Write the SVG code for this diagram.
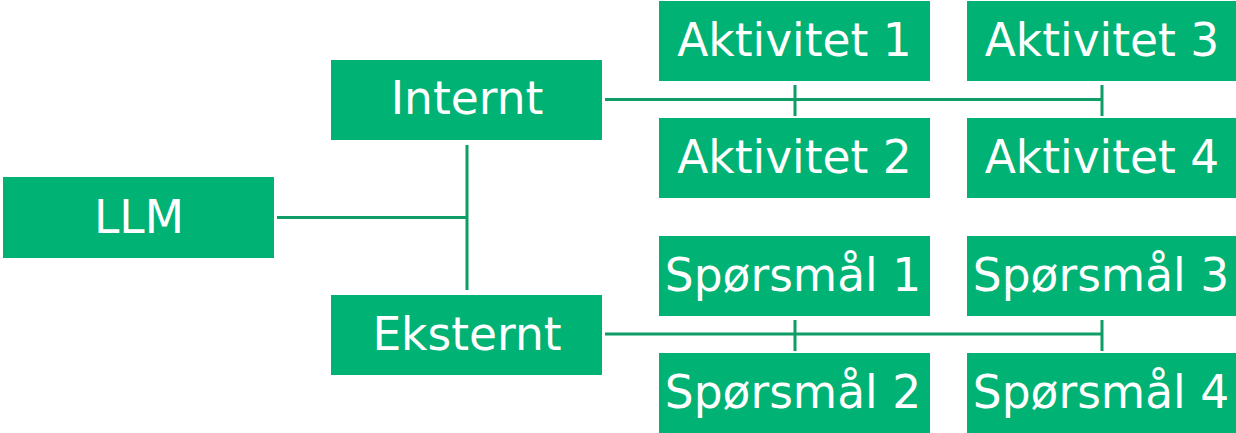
<svg xmlns="http://www.w3.org/2000/svg" width="1236" height="433" viewBox="0 0 1236 433">
<style>
.box{fill:#00B274}
.t{fill:#fff;font-family:"DejaVu Sans",Verdana,sans-serif;font-size:45.5px;text-anchor:middle}
.c{stroke:#0E9D66;stroke-width:3;fill:none}
</style>
<rect width="1236" height="433" fill="#fff"/>
<g id="connectors" class="c">
<path d="M277 217.5H467M467 145V290"/>
<path d="M605 99.5H1102M795 85V116M1102 85V116"/>
<path d="M605 334H1102M795 320V351M1102 320V351"/>
</g>
<g id="llm"><rect class="box" x="3" y="177" width="271" height="81"/><text class="t" x="139" y="233">LLM</text></g>
<g id="internt"><rect class="box" x="331" y="60" width="271" height="80"/><text class="t" x="467" y="114">Internt</text></g>
<g id="eksternt"><rect class="box" x="331" y="295" width="271" height="80"/><text class="t" x="467" y="350">Eksternt</text></g>
<g id="aktivitet1"><rect class="box" x="659" y="1" width="271" height="80"/><text class="t" x="794.5" y="56">Aktivitet 1</text></g>
<g id="aktivitet2"><rect class="box" x="659" y="118" width="271" height="80"/><text class="t" x="794.5" y="173">Aktivitet 2</text></g>
<g id="aktivitet3"><rect class="box" x="967" y="1" width="269" height="80"/><text class="t" x="1102" y="56">Aktivitet 3</text></g>
<g id="aktivitet4"><rect class="box" x="967" y="118" width="269" height="80"/><text class="t" x="1102" y="173">Aktivitet 4</text></g>
<g id="sporsmal1"><rect class="box" x="659" y="236" width="271" height="80"/><text class="t" x="793" y="291">Spørsmål 1</text></g>
<g id="sporsmal2"><rect class="box" x="659" y="353" width="271" height="80"/><text class="t" x="793" y="408">Spørsmål 2</text></g>
<g id="sporsmal3"><rect class="box" x="967" y="236" width="269" height="80"/><text class="t" x="1101" y="291">Spørsmål 3</text></g>
<g id="sporsmal4"><rect class="box" x="967" y="353" width="269" height="80"/><text class="t" x="1101" y="408">Spørsmål 4</text></g>
</svg>
